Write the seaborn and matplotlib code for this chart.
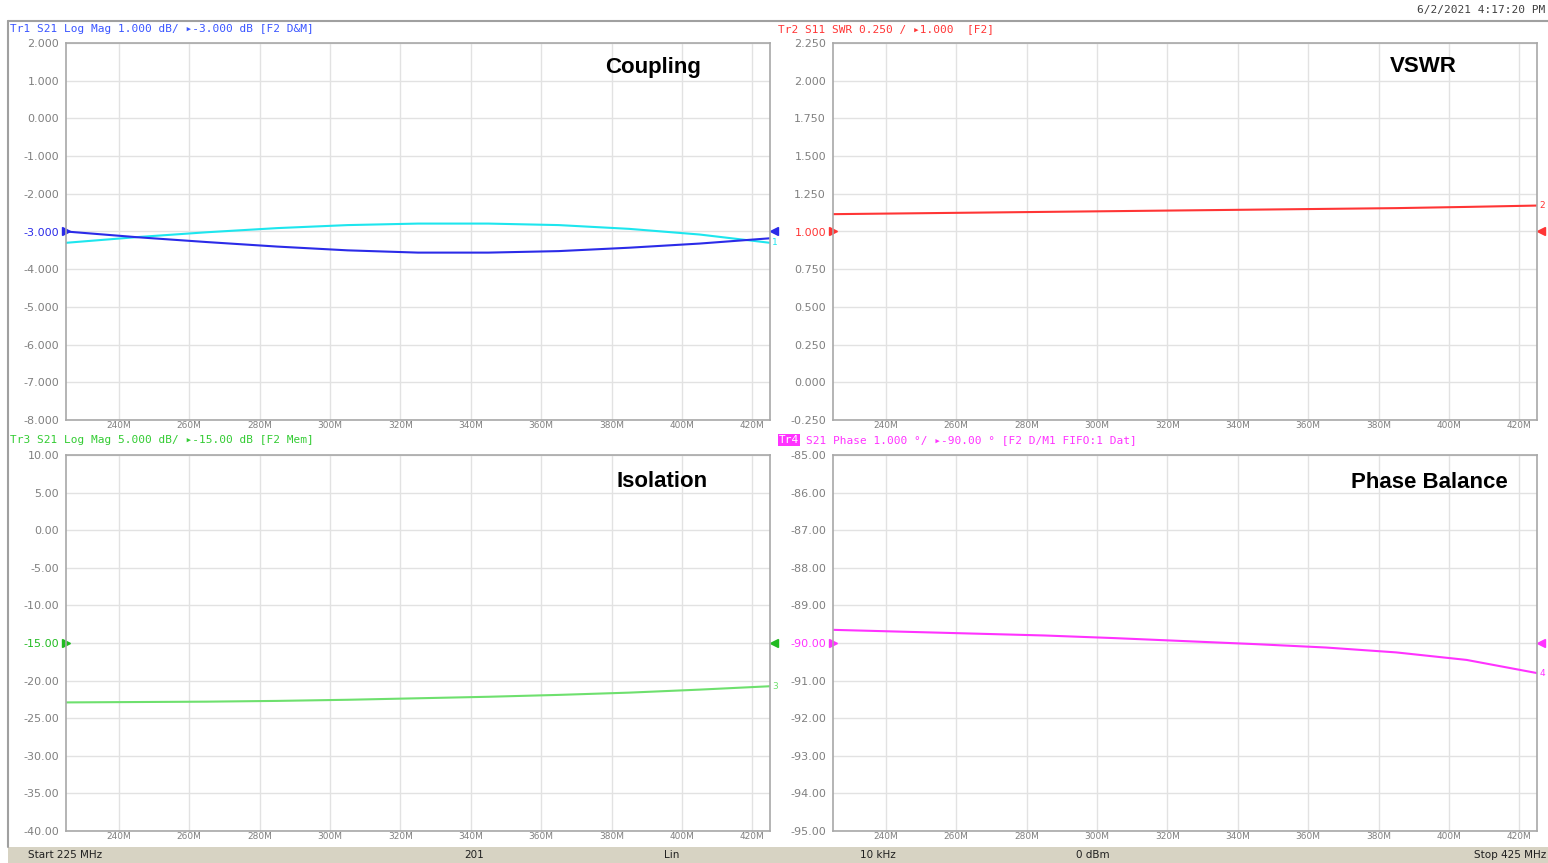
import numpy as np
import pandas as pd
import seaborn as sns
import matplotlib.pyplot as plt
from matplotlib.patches import Rectangle
from matplotlib.lines import Line2D

# data (MHz / dB / SWR / deg)
freq = [225, 245, 265, 285, 305, 325, 345, 365, 385, 405, 425]
coupling_a = [-3.00, -3.15, -3.28, -3.40, -3.50, -3.56, -3.56, -3.52, -3.43, -3.32, -3.18]
coupling_b = [-3.30, -3.15, -3.02, -2.91, -2.83, -2.79, -2.79, -2.83, -2.93, -3.08, -3.30]
vswr = [1.115, 1.120, 1.125, 1.130, 1.135, 1.140, 1.145, 1.150, 1.155, 1.163, 1.172]
isolation = [-22.9, -22.85, -22.8, -22.7, -22.55, -22.35, -22.15, -21.9, -21.6, -21.2, -20.75]
phase = [-89.65, -89.70, -89.75, -89.80, -89.87, -89.95, -90.03, -90.12, -90.25, -90.45, -90.80]

xticks = [240, 260, 280, 300, 320, 340, 360, 380, 400, 420]
panel_titles = ["Coupling", "VSWR", "Isolation", "Phase Balance"]
headers = ["Tr1 S21 Log Mag 1.000 dB/ \u25b8-3.000 dB [F2 D&M]",
           "Tr2 S11 SWR 0.250 / \u25b81.000  [F2]",
           "Tr3 S21 Log Mag 5.000 dB/ \u25b8-15.00 dB [F2 Mem]",
           "S21 Phase 1.000 \u00b0/ \u25b8-90.00 \u00b0 [F2 D/M1 FIFO:1 Dat]"]
ref_levels = [-3.0, 1.0, -15.0, -90.0]
y_ranges = [(-8, 2), (-0.25, 2.25), (-40, 10), (-95, -85)]
y_fmt = ["{:.3f}", "{:.3f}", "{:.2f}", "{:.2f}"]
status = ["Start 225 MHz", "201", "Lin", "10 kHz", "0 dBm", "Stop 425 MHz"]

sns.set_style("white")
plt.rcParams['font.family'] = ['DejaVu Sans']

W, H = 1548, 863
fig = plt.figure(figsize=(W / 100, H / 100), dpi=100)

def px_axes(x0, y0, x1, y1):
    return fig.add_axes([x0 / W, 1 - y1 / H, (x1 - x0) / W, (y1 - y0) / H])

axes = [px_axes(66, 43, 770, 420), px_axes(833, 43, 1537, 420),
        px_axes(66, 455, 770, 831), px_axes(833, 455, 1537, 831)]

blue, cyan, red, green, magenta = "#2b2be8", "#1ee6ee", "#ff3535", "#6ee06e", "#ff33ff"
head_cols = ["#3a55ff", "#ff3535", "#33cc33", "#ff33ff"]
ref_cols = [blue, red, "#22bb22", magenta]

df = pd.DataFrame({"freq": freq, "a": coupling_a, "b": coupling_b,
                   "vswr": vswr, "iso": isolation, "phase": phase})

sns.lineplot(data=df, x="freq", y="b", ax=axes[0], color=cyan, lw=1.5)
sns.lineplot(data=df, x="freq", y="a", ax=axes[0], color=blue, lw=1.5)
sns.lineplot(data=df, x="freq", y="vswr", ax=axes[1], color=red, lw=1.5)
sns.lineplot(data=df, x="freq", y="iso", ax=axes[2], color=green, lw=1.5)
sns.lineplot(data=df, x="freq", y="phase", ax=axes[3], color=magenta, lw=1.5)

end_vals = [coupling_b[-1], vswr[-1], isolation[-1], phase[-1]]
end_cols = [cyan, red, green, magenta]

for i, ax in enumerate(axes):
    lo, hi = y_ranges[i]
    yt = np.linspace(lo, hi, 11)
    ax.set_xlim(225, 425)
    ax.set_ylim(lo, hi)
    ax.set_xticks(xticks)
    ax.set_xticklabels([f"{t}M" for t in xticks])
    ax.set_yticks(yt)
    ax.set_yticklabels([y_fmt[i].format(v) for v in yt])
    ax.grid(True, color="#e2e2e2", lw=1)
    ax.tick_params(axis="x", length=0, pad=1, labelsize=6.5, labelcolor="#808080")
    ax.tick_params(axis="y", length=0, pad=5, labelsize=8, labelcolor="#808080")
    for lab, v in zip(ax.get_yticklabels(), yt):
        if abs(v - ref_levels[i]) < 1e-9:
            lab.set_color(ref_cols[i])
    for s in ax.spines.values():
        s.set_color("#a8a8a8")
        s.set_linewidth(1.2)
    ax.set_xlabel("")
    ax.set_ylabel("")
    # reference markers
    ax.plot([0], [ref_levels[i]], marker=">", color=ref_cols[i], ms=6,
            transform=ax.get_yaxis_transform(), clip_on=False)
    ax.plot([1.006], [ref_levels[i]], marker="<", color=ref_cols[i], ms=6,
            transform=ax.get_yaxis_transform(), clip_on=False)
    ax.text(1.003, end_vals[i], str(i + 1), color=end_cols[i], fontsize=6.5,
            va="center", ha="left", transform=ax.get_yaxis_transform())

# trace headers above each panel
head_pos = [(10, 29), (778, 29), (10, 440), (806, 440)]
for i, (x, y) in enumerate(head_pos):
    fig.text(x / W, 1 - y / H, headers[i], color=head_cols[i], fontsize=8,
             ha="left", va="center", family=["DejaVu Sans Mono"])
fig.text(779 / W, 1 - 440 / H, "Tr4", fontsize=8, color="white", ha="left",
         va="center", family=["DejaVu Sans Mono"],
         bbox=dict(boxstyle="square,pad=0.1", fc=magenta, ec="none"))

# titles inside panels
title_pos = [(653, 67), (1423, 67), (662, 481), (1429, 483)]
for t, (x, y) in zip(panel_titles, title_pos):
    fig.text(x / W, 1 - y / H, t, fontsize=16, fontweight="bold", ha="center",
             va="center", family=["Liberation Sans", "DejaVu Sans"], color="black")

# outer frame and status bar
fig.add_artist(Line2D([8 / W, 1], [1 - 21 / H, 1 - 21 / H], color="#a0a0a0", lw=1.5))
fig.add_artist(Line2D([8 / W, 8 / W], [1 - 21 / H, 1 - 847 / H], color="#a0a0a0", lw=1.5))
fig.add_artist(Rectangle((8 / W, 0), 1, 16 / H, transform=fig.transFigure,
                         fc="#d7d3c3", ec="none"))
status_x = [28, 474, 672, 878, 1093, 1546]
for j, (s, x) in enumerate(zip(status, status_x)):
    ha = "right" if j == len(status) - 1 else ("left" if j == 0 else "center")
    fig.text(x / W, 8 / H, s, fontsize=7.5, ha=ha, va="center", color="#202020")

fig.text(1545 / W, 1 - 10 / H, "6/2/2021 4:17:20 PM", fontsize=8, ha="right",
         va="center", color="#404040", family=["DejaVu Sans Mono"])

fig.savefig("out.png", dpi=100)
